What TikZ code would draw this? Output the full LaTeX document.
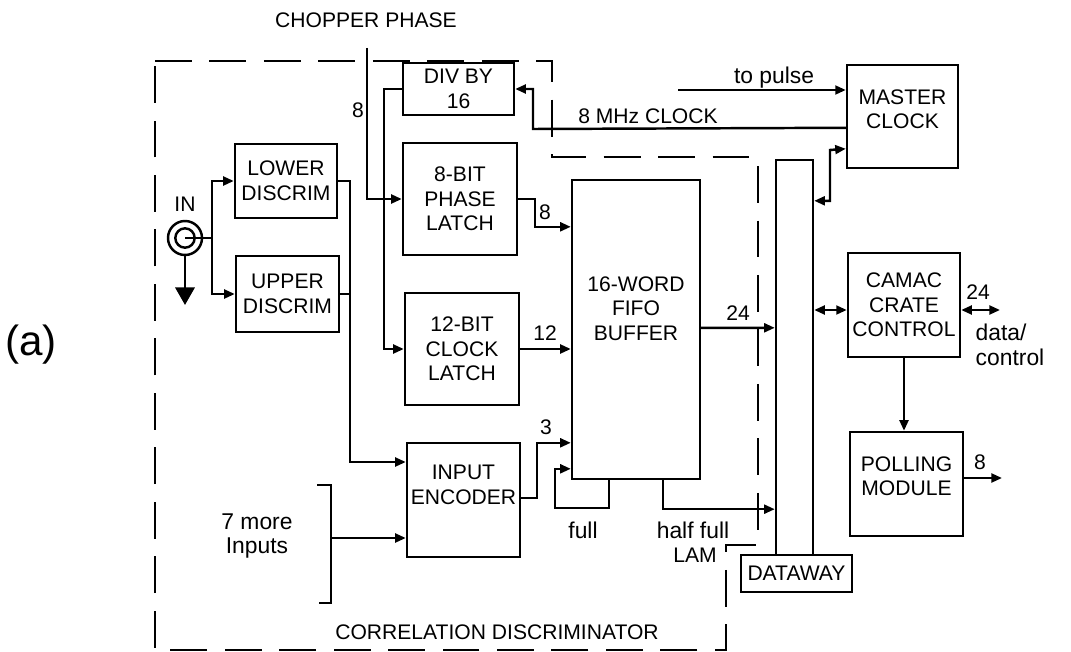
\documentclass[tikz,border=0pt]{standalone}
\usepackage{fontspec}
\setmainfont{Liberation Sans}
\usetikzlibrary{arrows.meta, positioning, calc}

\begin{document}
\begin{tikzpicture}[x=0.02cm, y=-0.02cm, >={Triangle[length=6pt, width=5pt]}, line width=1.4pt,
    blk/.style={draw, inner sep=1pt, align=center, font=\fontsize{12}{14}\selectfont},
    lbl/.style={inner sep=0pt, align=center, font=\fontsize{12}{14}\selectfont},
    lowlbl/.style={inner sep=0pt, align=center, font=\fontsize{13}{14}\selectfont},
    bound/.style={dash pattern=on 21pt off 10pt}]
    \useasboundingbox (0,0) rectangle (1071,652);

    % correlation discriminator boundary
    \draw[bound] (155,61) -- (552,61) -- (552,157) -- (758,157) -- (758,545) -- (726,545) -- (726,650) -- (155,650) -- cycle;
    \node (corr) [lbl] at (497,632) {CORRELATION DISCRIMINATOR};

    % blocks
    \node (lower) [blk, minimum width=2.04cm, minimum height=1.48cm] at (286,181) {LOWER\\DISCRIM};
    \node (upper) [blk, minimum width=2.06cm, minimum height=1.52cm] at (287.5,294) {UPPER\\DISCRIM};
    \node (div) [blk, minimum width=2.22cm, minimum height=1.04cm] at (458.5,89) {DIV BY\\16};
    \node (phlatch) [blk, minimum width=2.28cm, minimum height=2.24cm] at (460,199) {8-BIT\\PHASE\\LATCH};
    \node (clklatch) [blk, minimum width=2.28cm, minimum height=2.24cm] at (462,349) {12-BIT\\CLOCK\\LATCH};
    \node (enc) [blk, minimum width=2.26cm, minimum height=2.28cm] at (463.5,500) {};
    \node [lbl, below=12.5pt of enc.north] {INPUT\\ENCODER};
    \node (fifo) [blk, minimum width=2.56cm, minimum height=5.98cm] at (636,329.5) {};
    \node [lbl, below=55pt of fifo.north] {16-WORD\\FIFO\\BUFFER};
    \node (bus) [draw, minimum width=0.74cm, minimum height=7.9cm] at (794.5,357.5) {};
    \node (dataway) [blk, fill=white, minimum width=2.22cm, minimum height=0.74cm] at (796.5,573.5) {DATAWAY};
    \node (mclk) [blk, minimum width=2.22cm, minimum height=2.06cm] at (902.5,116.5) {};
    \node [lbl, below=14pt of mclk.north] {MASTER\\CLOCK};
    \node (camac) [blk, minimum width=2.24cm, minimum height=2.08cm] at (904,305) {CAMAC\\CRATE\\CONTROL};
    \node (poll) [blk, minimum width=2.26cm, minimum height=2.08cm] at (906.5,484) {};
    \node [lbl, below=14pt of poll.north] {POLLING\\MODULE};

    % input connector
    \node (in) [circle, draw, minimum size=0.68cm, inner sep=0pt] at (185,238) {};
    \draw (in.center) circle (5.5pt);
    \node (intxt) [lbl] at (185,204) {IN};
    \coordinate (gnd) at (185,305);
    \draw[-{Triangle[length=10pt, width=11pt]}] (in.south) -- (gnd);
    \draw[->] (in.center) -- (212,238) |- (lower.west);
    \draw[->] (212,238) |- (upper.west);

    % discriminators to encoder
    \draw[->] (lower.east) -- (350,181) |- ($(enc.west)+(0,-38)$);
    \draw (upper.east) -- (350,294);

    % seven more inputs
    \coordinate (brk) at (331,538);
    \draw (317,485) -| (brk) |- (319,603);
    \draw[->] (brk) -- (brk -| enc.west);
    \node (more) [lowlbl] at (257,536) {7 more\\Inputs};

    % chopper phase and clock divider
    \node (chtxt) [lbl] at (366,20) {CHOPPER PHASE};
    \coordinate (chop) at (367,48);
    \draw[->] (chop) |- (phlatch.west);
    \node [lbl] at (358,110) {8};
    \draw[->] (div.west) -- ++(-18,0) |- (clklatch.west);
    \draw[->] ($(mclk.north west)+(0,64)$) -- (533,129) |- (div.east);
    \node [lbl] at (648,116) {8 MHz CLOCK};
    \coordinate (pulse) at (678,90);
    \draw[->] (pulse) -- (pulse -| mclk.west);
    \node [lowlbl] at (774,78) {to pulse};

    % into the fifo
    \draw[->] (phlatch.east) -- (535,199) |- ($(fifo.north west)+(0,48)$);
    \node [lbl] at (545,212) {8};
    \draw[->] (clklatch.east) -- (clklatch.east -| fifo.west);
    \node [lbl] at (545,333) {12};
    \draw[->] ($(enc.east)+(0,-2)$) -- (537,498) |- ($(fifo.north west)+(0,264)$);
    \node [lbl] at (546,427) {3};
    \draw[->] ($(fifo.south west)+(38,0)$) |- (555,508) |- ($(fifo.north west)+(0,290)$);
    \node [lowlbl] at (583,530) {full};

    % fifo to dataway
    \draw[->] ($(fifo.north east)+(0,149)$) -- ($(bus.north west)+(0,169)$);
    \node [lbl] at (738,313) {24};
    \draw[->] ($(fifo.south west)+(92,0)$) |- ($(bus.south west)+(0,-47)$);
    \node [lowlbl] at (693,530) {half full};
    \node [lbl] at (695,555) {LAM};

    % dataway to crate
    \draw[<->] ($(bus.north east)+(0,42)$) -| (830,150) -- ($(mclk.north west)+(0,85)$);
    \draw[<->] ($(camac.west -| bus.east)+(0,5)$) -- ($(camac.west)+(0,5)$);
    \coordinate (ext) at (1000,310);
    \draw[<->] (camac.east |- ext) -- (ext);
    \node [lbl] at (978,292) {24};
    \node [lowlbl, align=left] at (1010,345) {data/\\control};
    \draw[->] (camac.south) -- (camac.south |- poll.north);
    \coordinate (pout) at (1002,478);
    \draw[->] (poll.east |- pout) -- (pout);
    \node [lbl] at (980,462) {8};

    \node (fig) [inner sep=0pt, font=\fontsize{24}{28}\selectfont] at (31,345) {(a)};
\end{tikzpicture}
\end{document}
